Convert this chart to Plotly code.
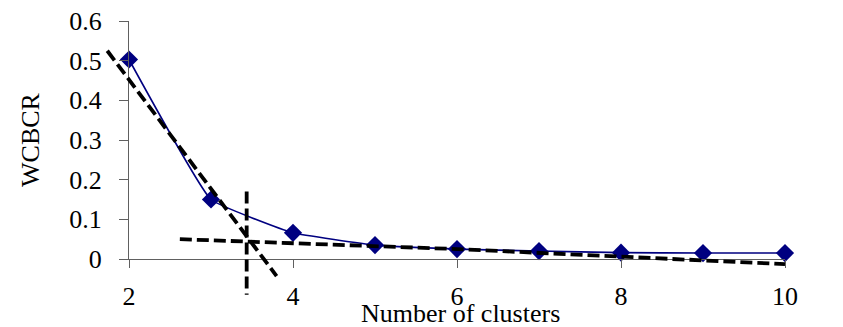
import plotly.graph_objects as go

# data
clusters = [2, 3, 4, 5, 6, 7, 8, 9, 10]
wcbcr = [0.503, 0.150, 0.066, 0.035, 0.025, 0.020, 0.016, 0.015, 0.015]

x_ticks = [2, 4, 6, 8, 10]
y_ticks = [0, 0.1, 0.2, 0.3, 0.4, 0.5, 0.6]
y_tick_text = ["0", "0.1", "0.2", "0.3", "0.4", "0.5", "0.6"]

# elbow guide lines (data coordinates)
steep_x = [1.735, 3.80]
steep_y = [0.525, -0.043]
flat_x = [2.62, 4, 6, 8, 10]
flat_y = [0.050, 0.040, 0.025, 0.006, -0.013]
vert_x = [3.435, 3.435]
vert_y = [0.170, -0.090]

X_RANGE = [2, 10]
Y_RANGE = [0, 0.6]

W, H = 843, 327
ML, MR, MT, MB = 50, 20, 8, 10
pw, ph = W - ML - MR, H - MT - MB
# main axes placement (pixels of the plotted axis box)
x0px, x1px = 129, 785
ytop, ybot = 21, 259
xd = [(x0px - ML) / pw, (x1px - ML) / pw]
yd = [(H - MB - ybot) / ph, (H - MB - ytop) / ph]

def ext(rng, dom):
    span = (rng[1] - rng[0]) / (dom[1] - dom[0])
    return [rng[0] - dom[0] * span, rng[1] + (1 - dom[1]) * span]

x2_range = ext(X_RANGE, xd)
y2_range = ext(Y_RANGE, yd)

FONT = "Liberation Serif, Times New Roman, serif"
FS = 26
AX = "#606060"

fig = go.Figure()
fig.add_trace(go.Scatter(
    x=clusters, y=wcbcr, mode="lines+markers",
    line=dict(color="#000080", width=1.6, shape="spline", smoothing=0.3),
    marker=dict(symbol="diamond", size=14, color="#000080"),
    xaxis="x", yaxis="y", showlegend=False, cliponaxis=False,
))
dash_style = dict(color="black", width=3.8, dash="12px,5px")
for gx, gy in [(steep_x, steep_y), (flat_x, flat_y), (vert_x, vert_y)]:
    fig.add_trace(go.Scatter(x=gx, y=gy, mode="lines", line=dash_style,
                             xaxis="x2", yaxis="y2", showlegend=False,
                             hoverinfo="skip"))

fig.update_layout(
    width=W, height=H,
    margin=dict(l=ML, r=MR, t=MT, b=MB),
    paper_bgcolor="white", plot_bgcolor="rgba(0,0,0,0)",
    font=dict(family=FONT, size=FS, color="black"),
    xaxis=dict(domain=xd, range=X_RANGE, tickvals=x_ticks, ticks="outside",
               ticklen=8, tickcolor=AX, showline=True, linecolor=AX,
               linewidth=1, showgrid=False, zeroline=False,
               ticklabelstandoff=6, automargin=False),
    yaxis=dict(domain=yd, range=Y_RANGE, tickvals=y_ticks,
               ticktext=y_tick_text, ticks="outside", ticklen=9,
               tickcolor=AX, showline=True, linecolor=AX, linewidth=1,
               showgrid=False, zeroline=False, ticklabelstandoff=12,
               automargin=False,
               title=dict(text="WCBCR", standoff=22, font=dict(size=FS))),
    xaxis2=dict(domain=[0, 1], range=x2_range, visible=False,
                anchor="y2", showgrid=False, zeroline=False),
    yaxis2=dict(domain=[0, 1], range=y2_range, visible=False,
                anchor="x2", showgrid=False, zeroline=False),
    annotations=[dict(text="Number of clusters", xref="x domain", x=0.506,
                      yref="y domain", y=0, yanchor="middle", yshift=-54,
                      showarrow=False, font=dict(size=FS))],
)

fig.write_html("out.html", config={"displayModeBar": False},
               post_script="document.body.style.margin='0';")
